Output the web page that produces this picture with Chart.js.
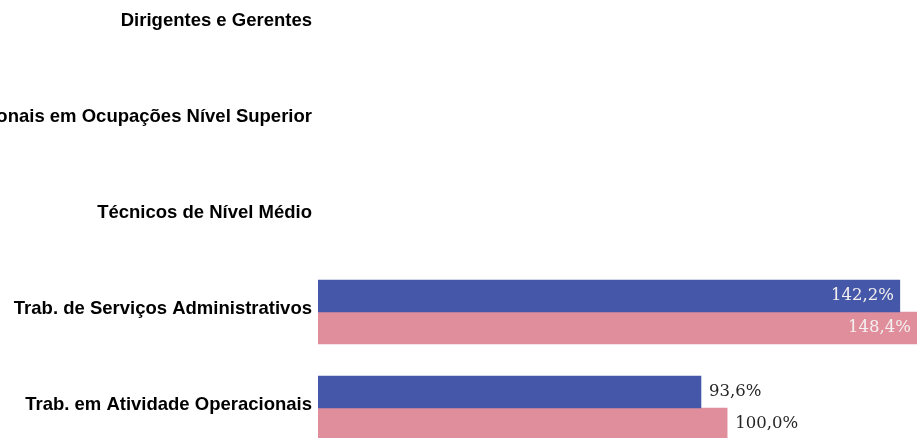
<!DOCTYPE html>
<html>
<head>
<meta charset="utf-8">
<script src="https://cdn.jsdelivr.net/npm/chart.js@4"></script>
<style>
  html, body { margin: 0; padding: 0; background: #fff; overflow: hidden; width: 920px; height: 438px; }
  #wrap { position: absolute; left: 0; top: -24px; width: 920px; height: 480px; }
</style>
</head>
<body>
<div id="wrap"><canvas id="barChart"></canvas></div>
<script>
const categories = [
  "Dirigentes e Gerentes",
  "Profissionais em Ocupações Nível Superior",
  "Técnicos de Nível Médio",
  "Trab. de Serviços Administrativos",
  "Trab. em Atividade Operacionais",
];
const serieAzul = [null, null, null, 142.2, 93.6];
const serieRosa = [null, null, null, 148.4, 100.0];

function fmt(v) {
  return v.toFixed(1).replace(".", ",") + "%";
}

// rótulos de valor nas barras
const valueLabels = {
  id: "valueLabels",
  afterDatasetsDraw(chart) {
    const ctx = chart.ctx;
    const area = chart.chartArea;
    ctx.save();
    ctx.font = "16.5px 'DejaVu Serif', serif";
    ctx.textBaseline = "middle";
    chart.data.datasets.forEach(function (ds, i) {
      const meta = chart.getDatasetMeta(i);
      meta.data.forEach(function (bar, j) {
        const v = ds.data[j];
        if (v === null || v === undefined) return;
        const txt = fmt(v);
        const w = ctx.measureText(txt).width;
        const end = Math.min(bar.x, area.right);
        if (bar.x + 8 + w > area.right) {
          ctx.fillStyle = "#f4f0f0";
          ctx.textAlign = "right";
          ctx.fillText(txt, end - 6, bar.y);
        } else {
          ctx.fillStyle = "#262626";
          ctx.textAlign = "left";
          ctx.fillText(txt, end + 8, bar.y);
        }
      });
    });
    ctx.restore();
  },
};

new Chart(document.getElementById("barChart"), {
  type: "bar",
  data: {
    labels: categories,
    datasets: [
      {
        label: "Série 1",
        data: serieAzul,
        backgroundColor: "#4557a8",
        barThickness: 32,
      },
      {
        label: "Série 2",
        data: serieRosa,
        backgroundColor: "#e08e9c",
        barThickness: 32,
      },
    ],
  },
  options: {
    indexAxis: "y",
    responsive: true,
    maintainAspectRatio: false,
    animation: false,
    layout: { autoPadding: false, padding: { left: 0, right: 3, top: 0, bottom: 0 } },
    plugins: {
      legend: { display: false },
      tooltip: { enabled: false },
    },
    scales: {
      x: {
        display: false,
        min: 0,
        max: 146.4,
      },
      y: {
        grid: { display: false, drawTicks: false },
        border: { display: false },
        afterFit: function (scale) {
          scale.width = 318;
          scale.paddingTop = 0;
          scale.paddingBottom = 0;
        },
        ticks: {
          padding: 6,
          labelOffset: -3,
          color: "#000",
          font: { family: "Arial, 'Liberation Sans', sans-serif", size: 18.5, weight: "bold" },
        },
      },
    },
  },
  plugins: [valueLabels],
});
</script>
</body>
</html>
